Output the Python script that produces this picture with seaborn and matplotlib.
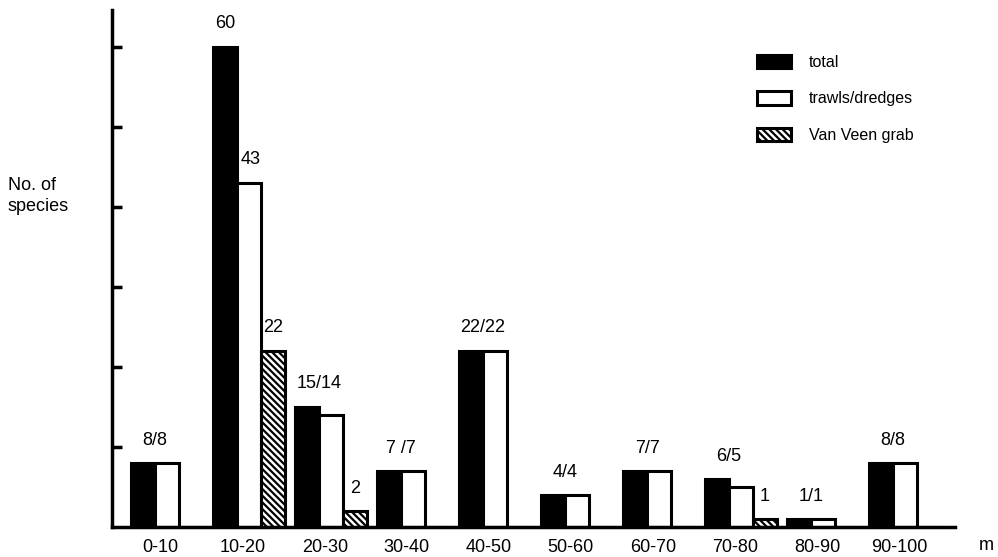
import numpy as np
import pandas as pd
import matplotlib
matplotlib.use('Agg')
import matplotlib.pyplot as plt
from matplotlib.patches import Patch
import seaborn as sns

# data
depths = ['0-10', '10-20', '20-30', '30-40', '40-50', '50-60', '60-70', '70-80', '80-90', '90-100']
total = [8, 60, 15, 7, 22, 4, 7, 6, 1, 8]
trawls = [8, 43, 14, 7, 22, 4, 7, 5, 1, 8]
grab = [0, 22, 2, 0, 0, 0, 0, 1, 0, 0]
pair_labels = ['8/8', None, '15/14', '7 /7', '22/22', '4/4', '7/7', '6/5', '1/1', '8/8']
series = ['total', 'trawls/dredges', 'Van Veen grab']

df = pd.DataFrame({
    'depth': depths * 3,
    'count': total + trawls + grab,
    'method': [s for s in series for _ in depths],
})

sns.set_style('white')
plt.rcParams['font.family'] = ['Liberation Sans', 'DejaVu Sans']
plt.rcParams['text.color'] = 'black'
plt.rcParams['xtick.color'] = 'black'
plt.rcParams['hatch.linewidth'] = 1.6

fig = plt.figure(figsize=(9.98, 5.57), dpi=100)
ax = fig.add_axes([0.1122, 0.054, 0.957 - 0.1122, 0.928])

width = 0.87
w = width / 3
sns.barplot(data=df, x='depth', y='count', hue='method', hue_order=series,
            palette={'total': 'black', 'trawls/dredges': 'white', 'Van Veen grab': 'white'},
            width=width, saturation=1, edgecolor='black', linewidth=2.2,
            legend=False, ax=ax)

for p in ax.containers[2]:
    p.set_hatch('\\\\\\\\\\')

ax.set_xlim(-0.67, 9.61)
ax.set_ylim(0, 64.6)
ax.set_yticks(np.arange(10, 61, 10))
ax.set_yticklabels([])
ax.tick_params(axis='y', left=True, direction='in', length=7, width=2.5, color='black')
ax.set_xticks(np.arange(len(depths)) - w / 2 + 0.07)
ax.set_xticklabels(depths, fontsize=13)
ax.tick_params(axis='x', length=0, pad=9, labelcolor='black')
ax.set_xlabel('')
ax.set_ylabel('')
for side in ['top', 'right']:
    ax.spines[side].set_visible(False)
for side in ['left', 'bottom']:
    ax.spines[side].set_linewidth(2.5)
    ax.spines[side].set_color('black')

# value labels
off = 1.8
for i in range(len(depths)):
    if pair_labels[i] is not None:
        ax.text(i - w / 2, max(total[i], trawls[i]) + off, pair_labels[i],
                ha='center', va='bottom', fontsize=13)
    else:
        ax.text(i - w, total[i] + off, str(total[i]), ha='center', va='bottom', fontsize=13)
        ax.text(i + 0.02, trawls[i] + off, str(trawls[i]), ha='center', va='bottom', fontsize=13)
    if grab[i] > 0:
        ax.text(i + w, grab[i] + off, str(grab[i]), ha='center', va='bottom', fontsize=13)

handles = [Patch(facecolor='black', edgecolor='black', linewidth=2.2),
           Patch(facecolor='white', edgecolor='black', linewidth=2.2),
           Patch(facecolor='white', edgecolor='black', linewidth=2.2, hatch='\\\\\\\\\\')]
fig.legend(handles, series, loc='upper left', bbox_to_anchor=(0.759, 0.902),
           frameon=False, fontsize=11.5, handlelength=2.1, handleheight=0.9,
           labelspacing=1.35, handletextpad=1.1, borderaxespad=0, borderpad=0)

fig.text(0.008, 1 - 196 / 557, 'No. of\nspecies', ha='left', va='center', fontsize=13, linespacing=1.35)
fig.text(0.988, 1 - 545 / 557, 'm', ha='center', va='center', fontsize=13)

fig.savefig('out.png', dpi=100)
